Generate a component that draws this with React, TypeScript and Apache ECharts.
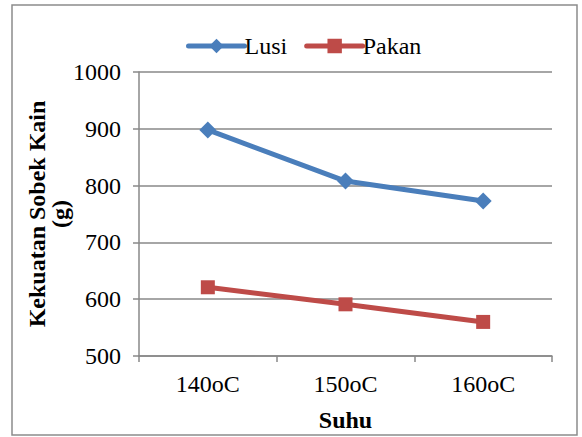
import React, { useEffect, useRef } from "react";
import * as echarts from "echarts";

const categories = ["140oC", "150oC", "160oC"];
const lusi = [898, 808, 773];
const pakan = [621, 591, 560];

export default function App() {
  const ref = useRef<HTMLDivElement>(null);
  useEffect(() => {
    const chart = echarts.init(ref.current!, null, { renderer: "svg" });
    const font = "'Liberation Serif', 'Times New Roman', serif";
    chart.setOption({
      animation: false,
      backgroundColor: "#fff",
      textStyle: { fontFamily: font },
      graphic: [
        {
          type: "rect",
          shape: { x: 12, y: 5, width: 565, height: 430 },
          style: { fill: "none", stroke: "#8c8c8c", lineWidth: 1.5 },
          silent: true,
        },
      ],
      legend: {
        top: 29,
        left: 181,
        itemWidth: 56,
        itemHeight: 18,
        itemGap: 17,
        lineStyle: { width: 5, cap: "round" },
        textStyle: { fontFamily: font, fontSize: 24, color: "#000", padding: [0, 0, 0, -5] },
        data: ["Lusi", "Pakan"],
      },
      grid: { left: 139, right: 30, top: 72, bottom: 81 },
      xAxis: {
        type: "category",
        data: categories,
        boundaryGap: true,
        name: "Suhu",
        nameLocation: "middle",
        nameGap: 52,
        nameTextStyle: { fontFamily: font, fontSize: 24, fontWeight: "bold", color: "#000" },
        axisLine: { lineStyle: { color: "#888", width: 1.5 } },
        axisTick: { show: true, length: 6, alignWithLabel: false, lineStyle: { color: "#888", width: 1.5 } },
        axisLabel: { fontFamily: font, fontSize: 24, color: "#000", margin: 16 },
      },
      yAxis: {
        type: "value",
        min: 500,
        max: 1000,
        interval: 100,
        name: "Kekuatan Sobek Kain\n(g)",
        nameLocation: "middle",
        nameRotate: 90,
        nameGap: 68,
        nameMoveOverlap: false,
        nameTextStyle: { fontFamily: font, fontSize: 24, fontWeight: "bold", color: "#000", lineHeight: 23 },
        axisLine: { show: true, lineStyle: { color: "#888", width: 1.5 } },
        axisTick: { show: true, length: 6, lineStyle: { color: "#888", width: 1.5 } },
        axisLabel: {
          fontFamily: font,
          fontSize: 24,
          color: "#000",
          margin: 18,
          formatter: (v: number) => String(v),
        },
        splitLine: { lineStyle: { color: "#888", width: 1.5 } },
      },
      series: [
        {
          name: "Lusi",
          type: "line",
          data: lusi,
          symbol: "diamond",
          symbolSize: 17,
          itemStyle: { color: "#4A7EBB" },
          lineStyle: { color: "#4A7EBB", width: 5 },
        },
        {
          name: "Pakan",
          type: "line",
          data: pakan,
          symbol: "rect",
          symbolSize: 14,
          itemStyle: { color: "#BE4B48" },
          lineStyle: { color: "#BE4B48", width: 5 },
        },
      ],
    });
    return () => chart.dispose();
  }, []);
  return (
    <div
      ref={ref}
      style={{ position: "absolute", left: 0, top: 0, width: 582, height: 437 }}
    />
  );
}
